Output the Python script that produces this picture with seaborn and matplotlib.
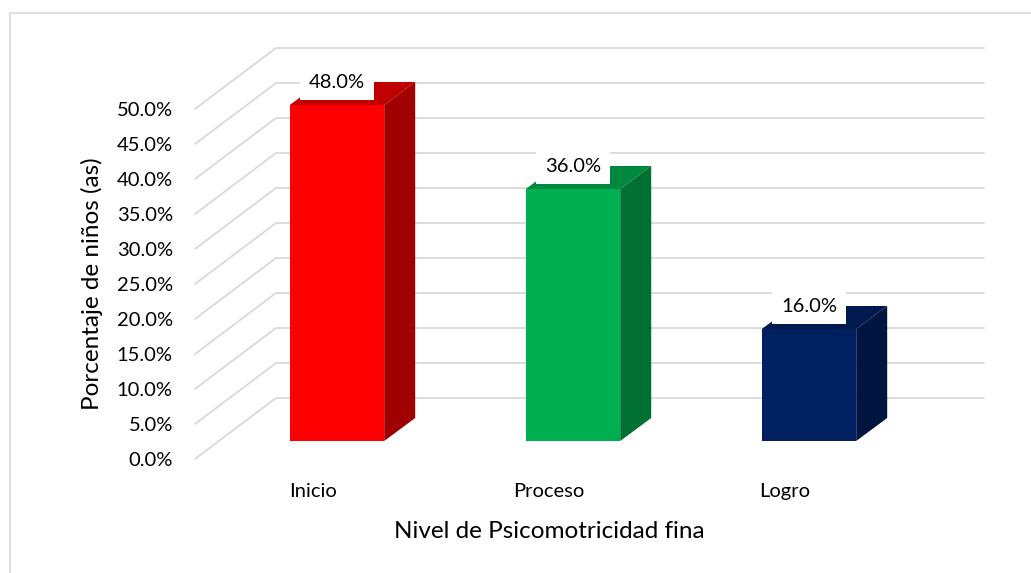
import matplotlib
matplotlib.use("Agg")
import matplotlib.pyplot as plt
import seaborn as sns
import pandas as pd
from matplotlib.transforms import ScaledTranslation, IdentityTransform
from matplotlib.patches import Polygon, Rectangle
from matplotlib.lines import Line2D

# ---- data ----
categories = ["Inicio", "Proceso", "Logro"]
values = [48.0, 36.0, 16.0]
front_colors = ["#FF0000", "#00B050", "#002060"]
top_colors = ["#C00000", "#00893E", "#001A4F"]
side_colors = ["#A00000", "#007033", "#001540"]
yticks = [0, 5, 10, 15, 20, 25, 30, 35, 40, 45, 50]
ytick_labels = [f"{t:.1f}%" for t in yticks]
xlabel = "Nivel de Psicomotricidad fina"
ylabel = "Porcentaje de niños (as)"

sns.set_theme(style="white")
plt.rcParams["font.family"] = ["Lato", "DejaVu Sans"]

DPI = 100
W, H = 1031, 573
fig = plt.figure(figsize=(W / DPI, H / DPI), dpi=DPI)
ax = fig.add_axes([195 / W, (H - 459) / H, 708 / W, 350 / H])
ax.set_facecolor("none")

df = pd.DataFrame({"cat": categories, "val": values})
sns.barplot(data=df, x="cat", y="val", hue="cat", palette=front_colors,
            width=0.4, ax=ax, legend=False, saturation=1, zorder=3)
ax.set_xlim(-0.5, 2.5)
ax.set_ylim(0, 50)
ax.set_yticks(yticks)
ax.set_yticklabels(ytick_labels)
for s in ax.spines.values():
    s.set_visible(False)
ax.tick_params(axis="y", length=0, pad=16, labelsize=14.5, colors="black")
ax.tick_params(axis="x", length=0, pad=17, labelsize=14.5, colors="black")
ax.set_xlabel(xlabel, fontsize=17.5, color="black")
ax.set_ylabel(ylabel, fontsize=17.5, color="black")

fig.canvas.draw()

# depth offsets (pixels)
BAR_DX, BAR_DY = 24, 18      # bar front plane relative to floor front edge
SIDE_DX, SIDE_DY = 31, 23    # bar depth
WALL_DX, WALL_DY = 81, 61    # back wall relative to front edge

# gridlines (floor-side diagonals + back wall)
grid_col = "#D9D9D9"
for t in yticks:
    fx, fy = ax.transData.transform((-0.5, t))
    rx, ry = ax.transData.transform((2.5, t))
    ln = Line2D([fx, fx + WALL_DX, rx + WALL_DX], [fy, fy + WALL_DY, ry + WALL_DY],
                transform=IdentityTransform(), color=grid_col, lw=1.3, zorder=1)
    ln.set_clip_on(False)
    ax.add_artist(ln)

shift = ScaledTranslation(BAR_DX / DPI, BAR_DY / DPI, fig.dpi_scale_trans)
for i, p in enumerate(ax.patches):
    p.set_transform(ax.transData + shift)
    p.set_edgecolor("none")
    p.set_clip_on(False)
    x0, y0 = p.get_x(), p.get_y()
    x1, y1 = x0 + p.get_width(), y0 + p.get_height()
    (ax0, ay0) = ax.transData.transform((x0, y0))
    (ax1, ay1) = ax.transData.transform((x1, y1))
    ax0 += BAR_DX; ax1 += BAR_DX; ay0 += BAR_DY; ay1 += BAR_DY
    side = Polygon([(ax1, ay0), (ax1 + SIDE_DX, ay0 + SIDE_DY),
                    (ax1 + SIDE_DX, ay1 + SIDE_DY), (ax1, ay1)],
                   closed=True, transform=IdentityTransform(),
                   facecolor=side_colors[i], edgecolor="none", zorder=3)
    top = Polygon([(ax0, ay1), (ax0 + SIDE_DX, ay1 + SIDE_DY),
                   (ax1 + SIDE_DX, ay1 + SIDE_DY), (ax1, ay1)],
                  closed=True, transform=IdentityTransform(),
                  facecolor=top_colors[i], edgecolor="none", zorder=3)
    side.set_clip_on(False)
    top.set_clip_on(False)
    ax.add_patch(side)
    ax.add_patch(top)

# data labels
for i, v in enumerate(values):
    ax.annotate(f"{v:.1f}%", xy=(i, v), xytext=(BAR_DX * 0.72, (BAR_DY + 23) * 0.72),
                textcoords="offset points", ha="center", va="center",
                fontsize=14.5, color="black", zorder=6,
                bbox=dict(boxstyle="square,pad=0.45", facecolor="white", edgecolor="none"),
                annotation_clip=False)

# axis title positions
ax.xaxis.set_label_coords((549 - 195) / 708, -(531 - 459) / 350)
ax.xaxis.label.set_va("center")
ax.yaxis.set_label_coords((92 - 195) / 708, 0.5)
ax.yaxis.label.set_va("center")

# chart area border
fig.patches.append(Rectangle((10 / W, -0.1), 1.2, (H - 12.5) / H + 0.1,
                             transform=fig.transFigure, fill=False,
                             edgecolor="#D9D9D9", lw=1.2))

fig.savefig("out.png", dpi=DPI)
